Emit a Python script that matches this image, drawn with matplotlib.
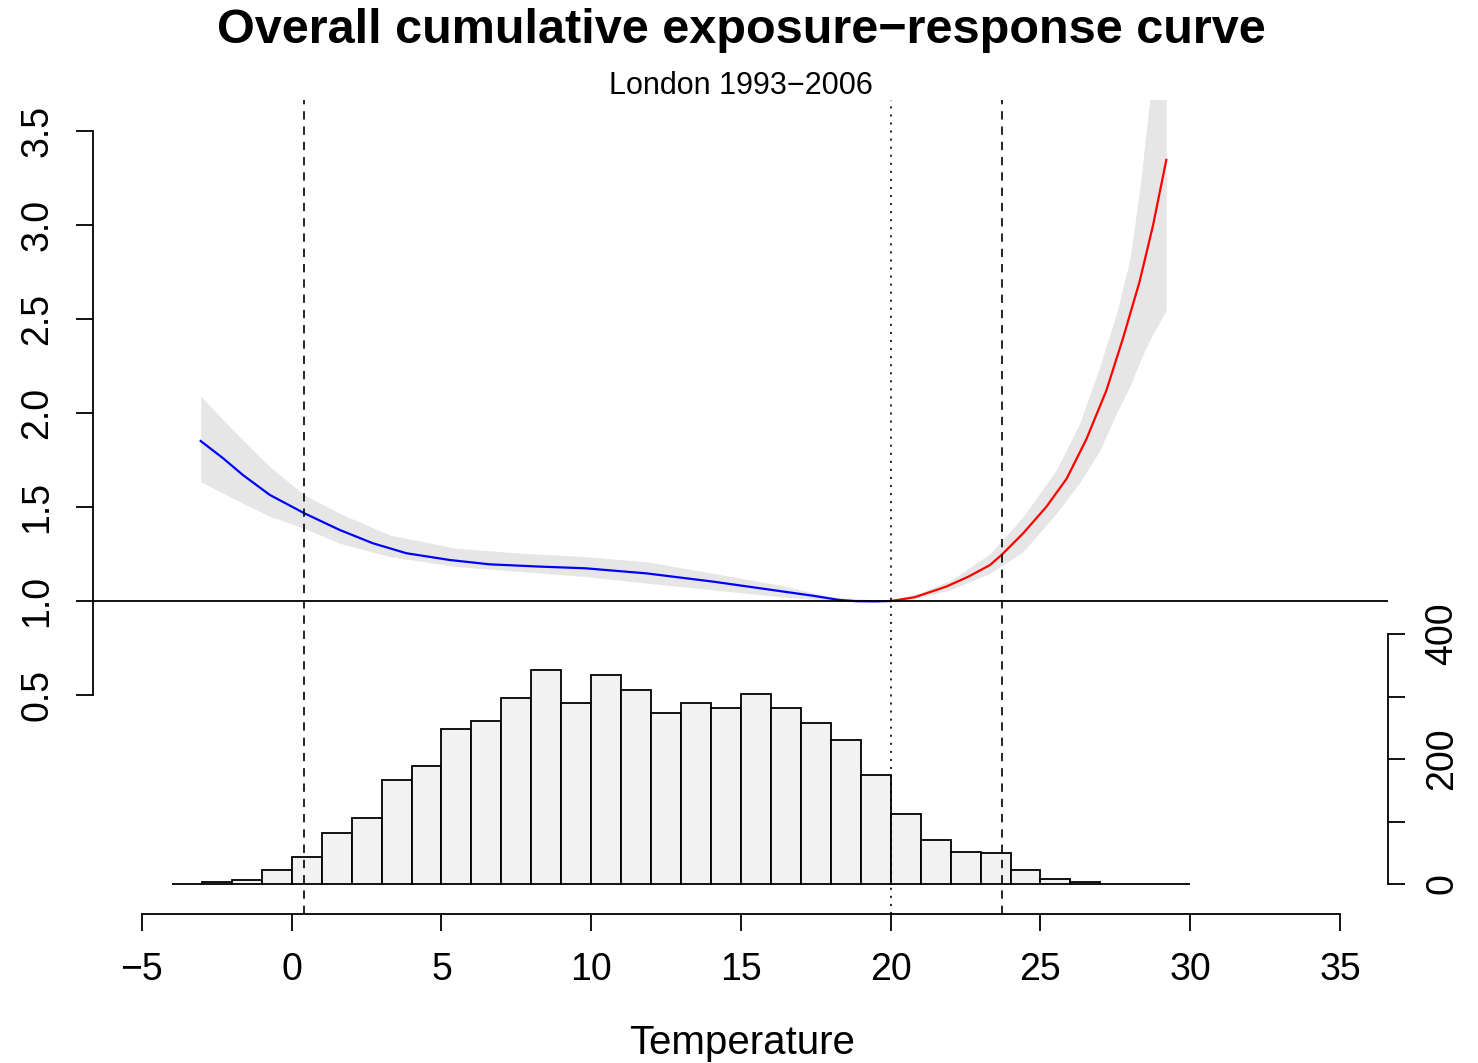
import matplotlib
matplotlib.use("Agg")
import matplotlib.pyplot as plt

plt.rcParams['font.family'] = ['Liberation Sans', 'DejaVu Sans']
plt.rcParams['lines.scale_dashes'] = False

# values
blue_t = [-3.04, -2.29, -1.63, -0.73, 0.43, 1.60, 2.71, 3.83, 5.28, 6.61, 8.28,
          9.8, 11.84, 14.07, 16.29, 17.4, 18.3, 18.85, 19.5, 20.0]
blue_rr = [1.851, 1.759, 1.670, 1.564, 1.466, 1.378, 1.307, 1.254, 1.218, 1.195, 1.183,
           1.174, 1.147, 1.103, 1.053, 1.028, 1.005, 0.999, 0.998, 1.0]

red_t = [20.0, 20.8, 21.86, 22.6, 23.31, 23.72, 24.42, 25.2, 25.87, 26.53, 27.2,
         27.76, 28.31, 28.76, 29.2]
red_rr = [1.0, 1.02, 1.077, 1.13, 1.191, 1.248, 1.360, 1.502, 1.65, 1.86, 2.12,
          2.40, 2.70, 3.0, 3.346]

band_t = [-3.04, -2.29, -1.63, -0.73, 0.43, 1.60, 3.27, 5.5, 7.72, 9.8, 11.84, 14.07,
          16.29, 17.96, 20.0, 21.0, 22.0, 23.31, 24.42, 25.53, 26.31, 26.98, 27.54,
          27.98, 28.31, 28.65, 29.2]
band_lo = [1.635, 1.573, 1.52, 1.45, 1.386, 1.307, 1.236, 1.183, 1.156, 1.13, 1.095, 1.059,
           1.023, 1.003, 1.0, 1.02, 1.06, 1.147, 1.262, 1.466, 1.63, 1.80, 2.0,
           2.14, 2.27, 2.39, 2.548]
band_hi = [2.09, 1.963, 1.856, 1.714, 1.564, 1.466, 1.351, 1.28, 1.254, 1.236, 1.209, 1.147,
           1.085, 1.023, 1.0, 1.045, 1.11, 1.25, 1.448, 1.697, 1.945, 2.247, 2.53,
           2.814, 3.186, 3.665, 4.6]

# daily temperature histogram, 1 degree bins from -4 to 30
hist_left = list(range(-4, 30))
hist_counts = [0, 3, 7, 22, 43, 81, 105, 167, 189, 248, 261, 298, 343, 289, 335, 310,
               273, 289, 282, 304, 282, 257, 230, 174, 112, 71, 52, 50, 22, 8, 3, 0, 0, 0]

cut_lo = 0.4
cut_hi = 23.7
mmt = 20.0

fig = plt.figure(figsize=(14.78, 10.63), dpi=100)
ax = fig.add_axes([93/1478, 1-914/1063, (1388-93)/1478, (914-100)/1063])

ax.fill_between(band_t, band_lo, band_hi, color='#E6E6E6', lw=0)
ax.plot(blue_t, blue_rr, color='blue', lw=1.6)
ax.plot(red_t, red_rr, color='red', lw=1.6)
ax.axhline(1.0, color='black', lw=1.3)

ax.set_xlim(-6.636, 36.603)
ax.set_ylim(-0.665, 3.665)
ax.set_xticks(range(-5, 40, 5))
ax.set_yticks([0.5, 1.0, 1.5, 2.0, 2.5, 3.0, 3.5])
ax.set_yticklabels(['0.5', '1.0', '1.5', '2.0', '2.5', '3.0', '3.5'])
for s in ['top', 'right']:
    ax.spines[s].set_visible(False)
ax.spines['left'].set_bounds(0.5, 3.5)
ax.spines['bottom'].set_bounds(-5, 35)
ax.spines['left'].set_linewidth(1.3)
ax.spines['bottom'].set_linewidth(1.3)
ax.tick_params(axis='both', direction='out', length=12.2, width=1.3, labelsize=27)
ax.tick_params(axis='x', pad=15)
ax.tick_params(axis='y', pad=15)
for lab in ax.get_yticklabels():
    lab.set_rotation(90)
    lab.set_va('center')

# histogram on the right hand axis
ax2 = ax.twinx()
ax2.bar(hist_left, hist_counts, width=1, align='edge', color='#F2F2F2',
        edgecolor='black', lw=1.3)
ax2.set_ylim(-48, 1254.4)
ax2.set_yticks([0, 100, 200, 300, 400])
ax2.set_yticklabels(['0', '', '200', '', '400'])
for s in ['top', 'left', 'bottom']:
    ax2.spines[s].set_visible(False)
ax2.spines['right'].set_bounds(0, 400)
ax2.spines['right'].set_linewidth(1.3)
ax2.tick_params(axis='y', direction='out', length=12.2, width=1.3, labelsize=27, pad=14)
for lab in ax2.get_yticklabels():
    lab.set_rotation(90)
    lab.set_va('center')

ax2.axvline(cut_lo, color='black', lw=1.2, linestyle=(0, (6, 5)))
ax2.axvline(cut_hi, color='black', lw=1.2, linestyle=(0, (6, 5)))
ax2.axvline(mmt, color='black', lw=1.2, linestyle=(0, (1.5, 4.3)))

fig.text(741/1478, 1-43/1063, 'Overall cumulative exposure\u2212response curve',
         ha='center', va='baseline', fontsize=35, fontweight='bold')
fig.text(741/1478, 1-94/1063, 'London 1993\u22122006', ha='center', va='baseline',
         fontsize=22)
fig.text(742/1478, 1-1054/1063, 'Temperature', ha='center', va='baseline', fontsize=29)

fig.savefig('out.png', dpi=100)
